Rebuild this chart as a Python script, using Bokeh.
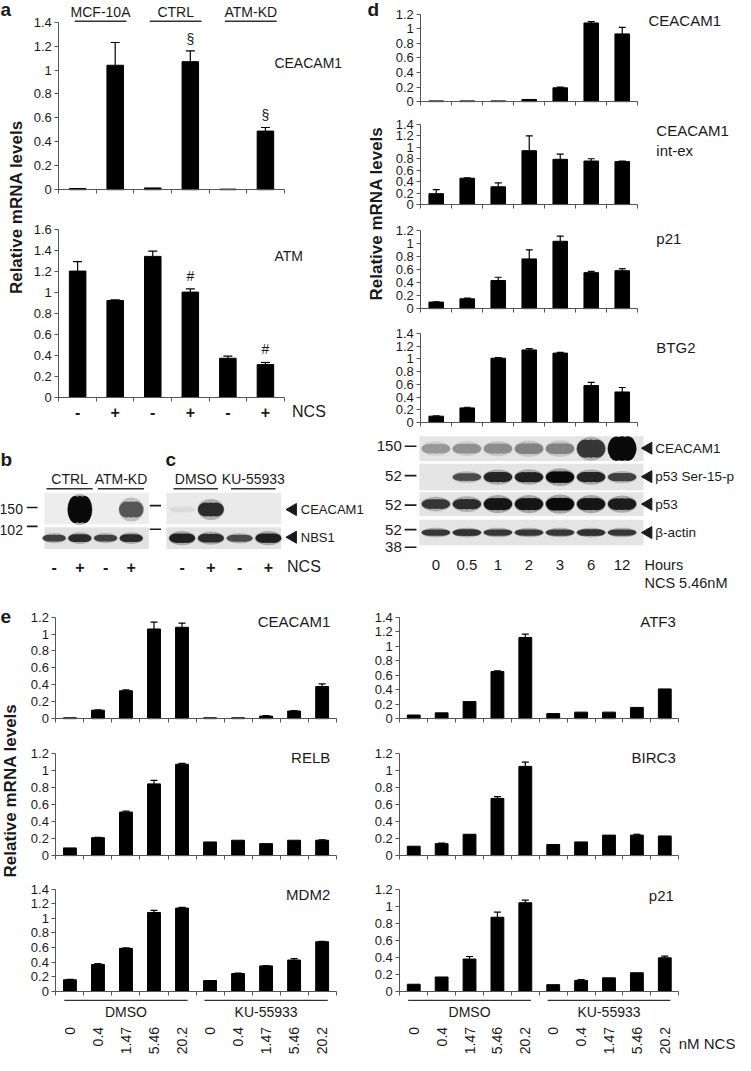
import math
from bokeh.plotting import figure
from bokeh.models import (Range1d, FixedTicker, Label, Arrow, Whisker, TeeHead,
                          ColumnDataSource)
from bokeh.layouts import row, column
from bokeh.embed import file_html
from bokeh.resources import INLINE

# ======================= data =======================
# panel a
a_groups = ["MCF-10A", "CTRL", "ATM-KD"]
a_ncs = ["-", "+", "-", "+", "-", "+"]
a_ceacam1 = [0.01, 1.04, 0.015, 1.07, 0.005, 0.49]
a_ceacam1_err = [0.0, 0.19, 0.0, 0.09, 0.0, 0.03]
a_ceacam1_sig = ["", "", "", "§", "", "§"]
a_atm = [1.20, 0.92, 1.34, 1.00, 0.37, 0.31]
a_atm_err = [0.09, 0.005, 0.05, 0.03, 0.02, 0.02]
a_atm_sig = ["", "", "", "#", "", "#"]

# panels b, c (western blots, band intensity 0..1)
bc_ncs = ["-", "+", "-", "+"]
b_groups = ["CTRL", "ATM-KD"]
c_groups = ["DMSO", "KU-55933"]
b_ceacam1_band = [0.0, 1.0, 0.0, 0.65]
b_nbs1_band = [0.75, 0.85, 0.75, 0.85]
c_ceacam1_band = [0.04, 0.85, 0.0, 0.0]
c_nbs1_band = [0.9, 0.85, 0.7, 0.9]
bc_markers = ["150", "102"]
bc_rows = ["CEACAM1", "NBS1"]

# panel d
d_hours = ["0", "0.5", "1", "2", "3", "6", "12"]
d_ceacam1 = [0.01, 0.01, 0.01, 0.03, 0.19, 1.08, 0.93]
d_ceacam1_err = [0, 0, 0, 0, 0.01, 0.02, 0.09]
d_intex = [0.19, 0.46, 0.31, 0.94, 0.79, 0.76, 0.75]
d_intex_err = [0.07, 0.005, 0.07, 0.26, 0.09, 0.04, 0.01]
d_p21 = [0.10, 0.15, 0.43, 0.76, 1.03, 0.55, 0.58]
d_p21_err = [0.005, 0.01, 0.05, 0.14, 0.08, 0.02, 0.03]
d_btg2 = [0.10, 0.23, 1.01, 1.14, 1.09, 0.58, 0.48]
d_btg2_err = [0.005, 0.01, 0.01, 0.02, 0.01, 0.05, 0.07]
d_blot_rows = ["CEACAM1", "p53 Ser-15-p", "p53", "β-actin"]
d_blot_ceacam1 = [0.35, 0.38, 0.4, 0.45, 0.45, 0.8, 1.0]
d_blot_p53s15 = [0.0, 0.7, 0.88, 0.9, 1.0, 0.88, 0.75]
d_blot_p53 = [0.8, 0.85, 0.95, 0.95, 1.0, 0.95, 0.92]
d_blot_actin = [0.8, 0.82, 0.8, 0.8, 0.8, 0.82, 0.8]
d_blot_markers = ["150", "52", "52", "52", "38"]

# panel e
e_doses = ["0", "0.4", "1.47", "5.46", "20.2", "0", "0.4", "1.47", "5.46", "20.2"]
e_treat = ["DMSO", "KU-55933"]
e_ceacam1 = [0.01, 0.10, 0.33, 1.06, 1.08, 0.01, 0.01, 0.03, 0.09, 0.38]
e_ceacam1_err = [0, 0.005, 0.01, 0.08, 0.05, 0, 0, 0.005, 0.005, 0.03]
e_relb = [0.09, 0.21, 0.51, 0.84, 1.07, 0.16, 0.18, 0.14, 0.18, 0.18]
e_relb_err = [0, 0.005, 0.01, 0.04, 0.01, 0, 0, 0, 0, 0.005]
e_mdm2 = [0.16, 0.37, 0.59, 1.08, 1.14, 0.15, 0.245, 0.35, 0.43, 0.68]
e_mdm2_err = [0.005, 0.01, 0.005, 0.03, 0.01, 0, 0.005, 0.005, 0.02, 0.005]
e_atf3 = [0.05, 0.08, 0.235, 0.65, 1.12, 0.07, 0.09, 0.09, 0.155, 0.41]
e_atf3_err = [0, 0, 0, 0.01, 0.045, 0, 0, 0, 0, 0]
e_birc3 = [0.11, 0.14, 0.25, 0.67, 1.045, 0.13, 0.16, 0.24, 0.24, 0.23]
e_birc3_err = [0, 0.005, 0, 0.02, 0.05, 0, 0, 0, 0.01, 0]
e_p21 = [0.085, 0.17, 0.38, 0.87, 1.04, 0.08, 0.13, 0.16, 0.22, 0.395]
e_p21_err = [0, 0, 0.03, 0.06, 0.03, 0, 0.01, 0, 0, 0.02]

# ======================= style / helpers =======================
FONT = "Liberation Sans"
INK = "#1a1a1a"
AXC = "#555555"
SX = 735 / 751
SY = 1055 / 1071


def W(a, b):
    return round(b * SX) - round(a * SX)


def H(a, b):
    return round(b * SY) - round(a * SY)


def base_fig(box, xr, yr, axes=True):
    x0, x1, y0, y1 = box
    kw = dict(width=W(x0, x1), height=H(y0, y1), x_range=xr, y_range=yr,
              toolbar_location=None, output_backend="svg", title=None,
              min_border=0, outline_line_color=None,
              background_fill_color="white", border_fill_color="white")
    if not axes:
        kw.update(x_axis_type=None, y_axis_type=None)
    p = figure(**kw)
    p.xgrid.visible = False
    p.ygrid.visible = False
    return p


def lab(p, x, y, text, size="14px", align="left", baseline="middle",
        bold=False, angle=0.0, y_offset=0):
    p.add_layout(Label(x=x, y=y, text=text, text_font=FONT, text_font_size=size,
                       text_font_style="bold" if bold else "normal",
                       text_align=align, text_baseline=baseline,
                       text_color=INK, angle=angle, y_offset=y_offset))


def hline(p, xa, xb, y, color="#333333", width=1.4):
    p.add_layout(Arrow(x_start=xa, y_start=y, x_end=xb, y_end=y, start=None,
                       end=None, line_color=color, line_width=width))


def chart(box, frame, values, errors, ymax, ystep=0.2, bar_w=0.45, cap=8):
    """Bar chart whose plotting frame fills the whole canvas; the axes are
    pinned at x=0.5 / y=0 so that labels around them stay inside the frame."""
    n = len(values)
    x0, x1, y0, y1 = box
    fl, fr, ft, fb = frame

    def cx(px):
        return 0.5 + (px - fl) / (fr - fl) * n

    def cy(py):
        return (fb - py) / (fb - ft) * ymax

    p = base_fig(box, Range1d(cx(x0), cx(x1)), Range1d(cy(y1), cy(y0)))
    nt = int(round(ymax / ystep))
    ticks = [round(i * ystep, 2) for i in range(nt + 1)]
    ya = p.yaxis[0]
    ya.fixed_location = 0.5
    ya.bounds = (0, ymax)
    ya.ticker = FixedTicker(ticks=ticks)
    ya.major_label_overrides = {t: f"{t:g}" for t in ticks}
    ya.major_label_text_font = FONT
    ya.major_label_text_font_size = "13px"
    ya.major_label_text_color = INK
    ya.axis_line_color = AXC
    ya.major_tick_line_color = AXC
    ya.minor_tick_line_color = None
    ya.major_tick_in = 0
    ya.major_tick_out = 4
    ya.major_label_standoff = 3
    xa = p.xaxis[0]
    xa.fixed_location = 0
    xa.bounds = (0.5, n + 0.5)
    xa.ticker = FixedTicker(ticks=[], minor_ticks=[i + 0.5 for i in range(n + 1)])
    xa.axis_line_color = AXC
    xa.major_tick_line_color = None
    xa.minor_tick_line_color = AXC
    xa.minor_tick_in = 0
    xa.minor_tick_out = 4
    xs = list(range(1, n + 1))
    p.vbar(x=xs, top=values, width=bar_w, fill_color="black", line_color="black")
    ex = [x for x, e in zip(xs, errors) if e > 0]
    lo = [v for v, e in zip(values, errors) if e > 0]
    hi = [v + e for v, e in zip(values, errors) if e > 0]
    src = ColumnDataSource(dict(x=ex, lo=lo, hi=hi))
    p.add_layout(Whisker(source=src, base="x", lower="lo", upper="hi",
                         line_color="black", line_width=1.2,
                         upper_head=TeeHead(size=cap, line_color="black", line_width=1.2),
                         lower_head=None))
    return p, cx, cy


def canvas(box, xr):
    x0, x1, y0, y1 = box
    return base_fig(box, Range1d(*xr), Range1d(-y1, -y0), axes=False)


def gray(v, bg=228):
    g = int(round(bg * (1 - v) + 10 * v))
    return "#%02x%02x%02x" % (g, g, g)


def bands(p, vals, yc, strip_h, hmax, w=0.9):
    """Draw blot bands: band darkness and thickness follow the intensity.
    Each band is a soft halo plus three overlapping ellipses (a flat smear)."""
    hx, hy, hw, hh, hc = [], [], [], [], []
    cx_, cy_, cw, ch, cc = [], [], [], [], []
    for i, v in enumerate(vals, start=1):
        if v <= 0:
            continue
        h = strip_h * hmax * (0.3 + 0.7 * v * v)
        col = gray(v)
        hx.append(i)
        hy.append(-yc)
        hw.append(w * 1.04)
        hh.append(min(strip_h * 0.98, h * 1.5))
        hc.append(col)
        for off in (-0.2, 0.0, 0.2):
            cx_.append(i + off * w)
            cy_.append(-yc)
            cw.append(0.6 * w)
            ch.append(h)
            cc.append(col)
    p.ellipse(x=hx, y=hy, width=hw, height=hh, fill_color=hc, fill_alpha=0.3,
              line_color=None)
    p.ellipse(x=cx_, y=cy_, width=cw, height=ch, fill_color=cc, line_color=None)


def tri(p, x, y):
    p.scatter(x=[x], y=[y], marker="triangle", size=12, angle=math.pi / 2,
              fill_color=INK, line_color=INK)


TOP = 600  # bottom of the upper block in reference pixels

# ======================= panel a =======================
stripA = canvas((0, 28, 0, 440), (0, 28))
lab(stripA, 0, -9, "a", size="19px", bold=True)
lab(stripA, 17, -210, "Relative mRNA levels", size="17px", bold=True,
    align="center", angle=math.pi / 2)

figA1, cx, cy = chart((28, 375, 0, 207), (60, 290, 22, 192), a_ceacam1,
                      a_ceacam1_err, 1.4, bar_w=0.44, cap=9)
for g, name in enumerate(a_groups):
    xa_, xb_ = 2 * g + 1 - 0.08, 2 * g + 2 + 0.3
    hline(figA1, xa_, xb_, cy(21))
    lab(figA1, (xa_ + xb_) / 2, cy(12), name, size="14px", align="center")
for i, s in enumerate(a_ceacam1_sig, start=1):
    if s:
        lab(figA1, i, a_ceacam1[i - 1] + a_ceacam1_err[i - 1], s, size="14px",
            align="center", baseline="bottom", y_offset=4)
lab(figA1, cx(280), cy(63), "CEACAM1", size="14px")

figA2, cx, cy = chart((28, 375, 207, 440), (60, 290, 232, 403), a_atm,
                      a_atm_err, 1.6, bar_w=0.44, cap=9)
for i, s in enumerate(a_atm_sig, start=1):
    if s:
        lab(figA2, i, a_atm[i - 1] + a_atm_err[i - 1], s, size="14px",
            align="center", baseline="bottom", y_offset=5)
lab(figA2, cx(280), cy(259), "ATM", size="14px")
for i, s in enumerate(a_ncs, start=1):
    lab(figA2, i, cy(418), s, size="16px", align="center", bold=True)
lab(figA2, cx(298), cy(418), "NCS", size="16px")

# ======================= panels b, c =======================
def Lb(px):
    return (px - 55) / 26.33 + 1


def Lc(px):
    return (px - 186) / 29.33 + 1


figB = canvas((0, 165, 440, TOP), (Lb(0), Lb(165)))
figC = canvas((165, 375, 440, TOP), (Lc(165), Lc(375)))

for p, groups, ul in ((figB, b_groups, (0.7, 2.5)), (figC, c_groups, (0.7, 2.25))):
    for g, name in enumerate(groups):
        xa_, xb_ = 2 * g + ul[0], 2 * g + ul[1]
        hline(p, xa_, xb_, -496)
        lab(p, (xa_ + xb_) / 2, -486, name, size="14px", align="center")
    for i, s in enumerate(bc_ncs, start=1):
        lab(p, i, -575, s, size="16px", align="center", bold=True)

figB.quad(left=[Lb(45), Lb(45)], right=[Lb(152), Lb(152)], top=[-500, -535],
          bottom=[-532, -557], fill_color=["#ededed", "#e2e2e2"], line_color=None)
figC.quad(left=[Lc(170), Lc(170)], right=[Lc(287), Lc(287)], top=[-500, -535],
          bottom=[-532, -557], fill_color=["#eaeaea", "#e2e2e2"], line_color=None)
bands(figB, b_ceacam1_band, 517, 32, 0.85, w=0.95)
bands(figB, b_nbs1_band, 546, 22, 0.45)
bands(figC, c_ceacam1_band, 517, 32, 0.55, w=0.9)
bands(figC, c_nbs1_band, 546, 22, 0.5)
lab(figB, Lb(0), -466, "b", size="19px", bold=True)
lab(figC, Lc(169), -466, "c", size="19px", bold=True)
for m, y in zip(bc_markers, (516, 538)):
    lab(figB, Lb(23), -y, m, size="14px", align="right")
hline(figB, Lb(27), Lb(38), -515, color=INK, width=1.6)
hline(figB, Lb(27), Lb(38), -534, color=INK, width=1.6)
hline(figB, Lb(153), Lb(165), -513, color=INK, width=1.6)
hline(figB, Lb(153), Lb(165), -537, color=INK, width=1.6)
for name, y in zip(bc_rows, (517, 545)):
    tri(figC, Lc(299), -y)
    lab(figC, Lc(307), -y, name, size="13px")
lab(figC, Lc(293), -575, "NCS", size="16px")

# ======================= panel d =======================
stripD = canvas((375, 395, 0, 435), (375, 395))
lab(stripD, 375, -9, "d", size="19px", bold=True)
lab(stripD, 384, -216, "Relative mRNA levels", size="17px", bold=True,
    align="center", angle=math.pi / 2)

DX = (395, 751)
DF = (429, 651)
d1, cx, cy = chart((*DX, 0, 110), (*DF, 14, 103), d_ceacam1, d_ceacam1_err,
                   1.2, bar_w=0.47, cap=7)
lab(d1, cx(662), cy(20), "CEACAM1", size="15px")
d2, cx, cy = chart((*DX, 110, 215), (*DF, 126, 207), d_intex, d_intex_err,
                   1.4, bar_w=0.47, cap=7)
lab(d2, cx(670), cy(132), "CEACAM1", size="15px")
lab(d2, cx(670), cy(152), "int-ex", size="15px")
d3, cx, cy = chart((*DX, 215, 320), (*DF, 233, 313), d_p21, d_p21_err,
                   1.2, bar_w=0.47, cap=7)
lab(d3, cx(670), cy(242), "p21", size="15px")
d4, cx, cy = chart((*DX, 320, 435), (*DF, 338, 428), d_btg2, d_btg2_err,
                   1.4, bar_w=0.47, cap=7)
lab(d4, cx(670), cy(352), "BTG2", size="15px")


def Ld(px):
    return (px - 444.86) / 31.71 + 1


dblot = canvas((375, 751, 435, TOP), (Ld(375), Ld(751)))
strips = [(442, 467, d_blot_ceacam1, 1.0), (470, 497, d_blot_p53s15, 0.45),
          (499, 523, d_blot_p53, 0.55), (527, 553, d_blot_actin, 0.33)]
dblot.quad(left=[Ld(428)] * 4, right=[Ld(657)] * 4,
           top=[-s[0] for s in strips], bottom=[-s[1] for s in strips],
           fill_color="#e4e4e4", line_color=None)
for (t, b, vals, hm) in strips:
    bands(dblot, vals, (t + b) / 2, b - t, hm, w=0.92)
for m, y in zip(d_blot_markers, (452, 482, 512, 537, 555)):
    lab(dblot, Ld(410), -y, m, size="15px", align="right")
    hline(dblot, Ld(413), Ld(425), -y, color=INK, width=1.6)
for name, y in zip(d_blot_rows, (454, 483, 511, 540)):
    tri(dblot, Ld(662), -y)
    lab(dblot, Ld(669), -y, name, size="13.5px")
for i, h in enumerate(d_hours, start=1):
    lab(dblot, i, -573, h, size="15px", align="center")
lab(dblot, Ld(658), -573, "Hours", size="14.5px")
lab(dblot, Ld(658), -591, "NCS 5.46nM", size="14.5px")

# ======================= panel e =======================
stripE = canvas((0, 28, TOP, 1071), (0, 28))
lab(stripE, 0, -625, "e", size="19px", bold=True)
lab(stripE, 10, -802, "Relative mRNA levels", size="17px", bold=True,
    align="center", angle=math.pi / 2)

EL = (28, 375)
ELF = (57, 343)
ER = (375, 751)
ERF = (408, 693)
e_specs = [
    (EL, ELF, (TOP, 740), (626, 729), e_ceacam1, e_ceacam1_err, 1.2, "CEACAM1", 337, 630),
    (EL, ELF, (740, 875), (764, 868), e_relb, e_relb_err, 1.2, "RELB", 337, 768),
    (EL, ELF, (875, 1071), (902, 1006), e_mdm2, e_mdm2_err, 1.4, "MDM2", 337, 907),
    (ER, ERF, (TOP, 740), (626, 729), e_atf3, e_atf3_err, 1.4, "ATF3", 690, 630),
    (ER, ERF, (740, 875), (764, 868), e_birc3, e_birc3_err, 1.2, "BIRC3", 690, 768),
    (ER, ERF, (875, 1071), (902, 1006), e_p21, e_p21_err, 1.2, "p21", 688, 909),
]
e_figs = []
for k, (bx, fx, by, fy, vals, errs, ymax, name, lx, ly) in enumerate(e_specs):
    p, cx, cy = chart((*bx, *by), (*fx, *fy), vals, errs, ymax, bar_w=0.46, cap=7)
    lab(p, cx(lx), cy(ly), name, size="15px", align="right")
    if k in (2, 5):
        for g, t in enumerate(e_treat):
            hline(p, 5 * g + 0.8, 5 * g + 5.2, cy(1015))
            lab(p, 5 * g + 3.0, cy(1027), t, size="14px", align="center")
        for i, d in enumerate(e_doses, start=1):
            lab(p, i, cy(1042), d, size="14px", align="right", angle=math.pi / 2)
        if k == 5:
            lab(p, cx(693), cy(1059), "nM NCS", size="15px")
    e_figs.append(p)

# ======================= layout =======================
top_left = column(row(stripA, column(figA1, figA2)), row(figB, figC))
top_right = column(row(stripD, column(d1, d2, d3, d4)), dblot)
bottom = row(stripE, column(*e_figs[:3]), column(*e_figs[3:]))
root = column(row(top_left, top_right), bottom)

open("out.html", "w").write(file_html(root, INLINE))
